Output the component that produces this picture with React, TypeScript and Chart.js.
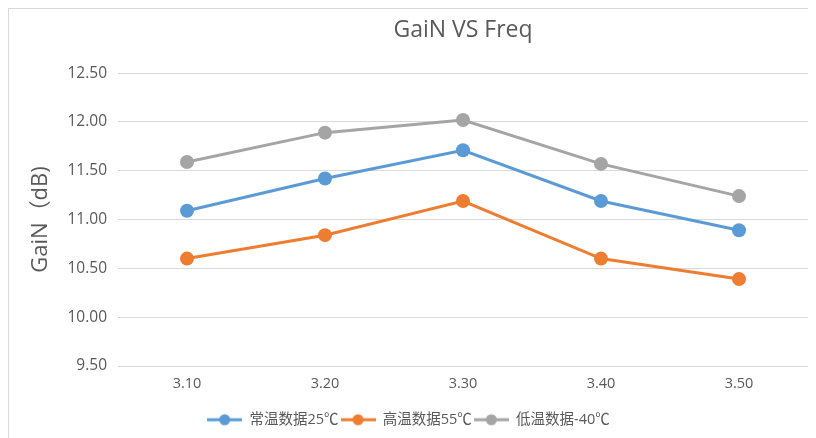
import React, { useEffect, useRef } from "react";
import { Chart, registerables } from "chart.js";

Chart.register(...registerables);

const categories = ["3.10", "3.20", "3.30", "3.40", "3.50"];
const seriesNames = ["常温数据25℃", "高温数据55℃", "低温数据-40℃"];
const normalTemp = [11.09, 11.42, 11.71, 11.19, 10.89];
const highTemp = [10.6, 10.84, 11.19, 10.6, 10.39];
const lowTemp = [11.59, 11.89, 12.02, 11.57, 11.24];
const colors = ["#5B9BD5", "#ED7D31", "#A5A5A5"];

const FONT = '"Open Sans", "Noto Sans CJK SC", sans-serif';
const TEXT = "#595959";

function legendMarker(color: string): HTMLCanvasElement {
  const c = document.createElement("canvas");
  c.width = 35;
  c.height = 14;
  const ctx = c.getContext("2d")!;
  ctx.strokeStyle = color;
  ctx.lineWidth = 3;
  ctx.beginPath();
  ctx.moveTo(0, 7);
  ctx.lineTo(35, 7);
  ctx.stroke();
  ctx.fillStyle = color;
  ctx.beginPath();
  ctx.arc(17.5, 7, 5.5, 0, Math.PI * 2);
  ctx.fill();
  return c;
}

export default function App() {
  const ref = useRef<HTMLCanvasElement>(null);
  useEffect(() => {
    const values = [normalTemp, highTemp, lowTemp];
    const markers = colors.map(legendMarker);
    const chart = new Chart(ref.current!, {
      type: "line",
      data: {
        labels: categories,
        datasets: seriesNames.map((name, i) => ({
          label: name,
          data: values[i],
          borderColor: colors[i],
          backgroundColor: colors[i],
          borderWidth: 3,
          pointRadius: 7,
          pointBackgroundColor: colors[i],
          pointBorderColor: colors[i],
          pointBorderWidth: 0,
          tension: 0,
        })),
      },
      options: {
        responsive: false,
        animation: false,
        layout: { padding: { left: 0, right: 8, top: 0, bottom: 1 } },
        plugins: {
          tooltip: { enabled: false },
          title: {
            display: true,
            text: "GaiN VS Freq",
            fullSize: false,
            color: TEXT,
            font: { family: FONT, size: 23, weight: "normal" },
            padding: { top: 8, bottom: 28.5 },
          },
          legend: {
            position: "bottom",
            labels: {
              color: TEXT,
              font: { family: FONT, size: 14.5 },
              usePointStyle: true,
              pointStyleWidth: 35,
              padding: 2,
              generateLabels: (ch: any) =>
                ch.data.datasets.map((ds: any, i: number) => ({
                  text: ds.label,
                  fillStyle: colors[i],
                  strokeStyle: colors[i],
                  fontColor: TEXT,
                  pointStyle: markers[i],
                  lineWidth: 0,
                  hidden: false,
                  datasetIndex: i,
                })),
            },
          },
        },
        scales: {
          x: {
            offset: true,
            grid: { display: false, drawTicks: false },
            border: { display: false },
            ticks: { color: TEXT, font: { family: FONT, size: 14.5 }, padding: 9 },
            afterFit: (s: any) => {
              s.height = 44.5;
            },
          },
          y: {
            min: 9.5,
            max: 12.5,
            grid: { color: "#D9D9D9", lineWidth: 1, drawTicks: false },
            border: { display: false },
            ticks: {
              stepSize: 0.5,
              color: TEXT,
              font: { family: FONT, size: 15.5 },
              padding: 11,
              callback: (v: any) => Number(v).toFixed(2),
            },
            title: {
              display: true,
              text: "GaiN（dB)",
              color: TEXT,
              font: { family: FONT, size: 22 },
              padding: { top: 19, bottom: 0 },
            },
            afterFit: (s: any) => {
              s.width = 109;
            },
          },
        },
      },
    });
    return () => chart.destroy();
  }, []);
  return (
    <div
      style={{
        width: 807,
        height: 429,
        borderTop: "1px solid #D9D9D9",
        borderLeft: "1px solid #D9D9D9",
        background: "#fff",
      }}
    >
      <canvas ref={ref} width={807} height={429} style={{ display: "block" }} />
    </div>
  );
}
